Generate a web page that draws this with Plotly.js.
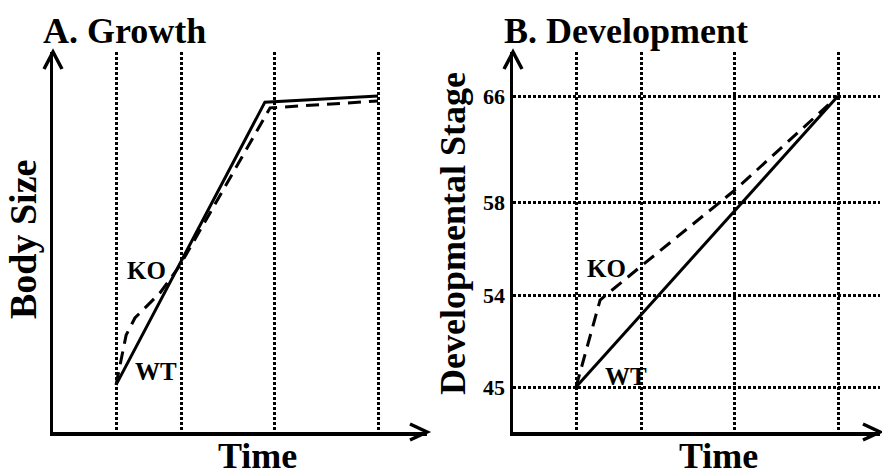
<!DOCTYPE html>
<html>
<head>
<meta charset="utf-8">
<script src="https://cdn.plot.ly/plotly-3.0.1.min.js"></script>
<style>html,body{margin:0;padding:0;background:#fff;}#chart{width:882px;height:476px;}</style>
</head>
<body>
<div id="chart"></div>
<script>
// ---- data (schematic units) ----
var gridTimes = [1.94, 3.94, 6.83, 10];

// Panel A: Growth (body size, arbitrary units)
var growthWT_t = [1.94, 6.52, 10];
var growthWT_y = [1.24, 8.68, 8.84];
var growthKO_t = [1.94, 2.25, 2.52, 3.29, 3.91, 6.68, 10];
var growthKO_y = [1.24, 2.55, 3.0, 3.66, 4.39, 8.53, 8.71];

// Panel B: Development (stage axis is schematic: positions + labels)
var stagePos = [4.5, 13.7, 23.0, 33.6];
var stageLabels = ['45', '54', '58', '66'];
var devWT_t = [1.94, 10];
var devWT_y = [4.5, 33.6];
var devKO_t = [1.94, 2.68, 3.05, 3.91, 6.83, 10];
var devKO_y = [4.5, 13.2, 14.2, 16.5, 24.2, 33.6];

// ---- layout geometry ----
var W = 882, H = 476;
var axA = [53, 427], axB = [513, 880], axY = [432, 52];
function px(x){ return x / W; }
function py(y){ return 1 - y / H; }

var serif = 'Liberation Serif, Times New Roman, serif';
var bigFont = {family: serif, size: 36, color: '#000', weight: 'bold'};
var lblFont = {family: serif, size: 25, color: '#000', weight: 'bold'};

var traces = [
  {x: growthWT_t, y: growthWT_y, xaxis: 'x', yaxis: 'y', mode: 'lines', name: 'WT',
   line: {color: '#000', width: 3}},
  {x: growthKO_t, y: growthKO_y, xaxis: 'x', yaxis: 'y', mode: 'lines', name: 'KO',
   line: {color: '#000', width: 3, dash: '13px,8px'}},
  {x: devWT_t, y: devWT_y, xaxis: 'x2', yaxis: 'y2', mode: 'lines', name: 'WT',
   line: {color: '#000', width: 3}},
  {x: devKO_t, y: devKO_y, xaxis: 'x2', yaxis: 'y2', mode: 'lines', name: 'KO',
   line: {color: '#000', width: 3, dash: '13px,8px'}}
];

var dotted = '2.5px,2.5px';
function xax(dom, pxLen){
  return {domain: [px(dom[0]), px(dom[1])], range: [0, pxLen / 32.5],
    tickvals: gridTimes, showticklabels: false, ticks: '',
    showgrid: true, gridcolor: '#000', gridwidth: 3, griddash: dotted,
    showline: true, linecolor: '#000', linewidth: 3.5, zeroline: false, fixedrange: true};
}
var yDom = [py(axY[0]), py(axY[1])];

var shapes = [];
function chevron(points){
  var d = 'M' + points.map(function(p){ return px(p[0]) + ',' + py(p[1]); }).join(' L');
  shapes.push({type: 'path', xref: 'paper', yref: 'paper', path: d,
    line: {color: '#000', width: 3.5}});
}
[axA, axB].forEach(function(a){
  chevron([[a[0] - 9, axY[1] + 17], [a[0], axY[1]], [a[0] + 9, axY[1] + 17]]);
  chevron([[a[1] - 17, axY[0] - 8], [a[1], axY[0]], [a[1] - 17, axY[0] + 8]]);
});

var annotations = [
  {text: 'A. Growth', xref: 'paper', yref: 'paper', x: px(41), y: py(31), xanchor: 'left', yanchor: 'middle', showarrow: false, font: bigFont},
  {text: 'B. Development', xref: 'paper', yref: 'paper', x: px(502), y: py(31), xanchor: 'left', yanchor: 'middle', showarrow: false, font: bigFont},
  {text: 'Body Size', xref: 'paper', yref: 'paper', x: px(23), y: py(240), textangle: -90, xanchor: 'center', yanchor: 'middle', showarrow: false, font: {family: serif, size: 38, color: '#000', weight: 'bold'}},
  {text: 'Developmental Stage', xref: 'paper', yref: 'paper', x: px(453), y: py(234), textangle: -90, xanchor: 'center', yanchor: 'middle', showarrow: false, font: bigFont},
  {text: 'Time', xref: 'paper', yref: 'paper', x: px(257), y: py(456), xanchor: 'center', yanchor: 'middle', showarrow: false, font: bigFont},
  {text: 'Time', xref: 'paper', yref: 'paper', x: px(718), y: py(456), xanchor: 'center', yanchor: 'middle', showarrow: false, font: bigFont},
  {text: 'KO', xref: 'x', yref: 'y', x: 2.89, y: 4.24, showarrow: false, font: lblFont},
  {text: 'WT', xref: 'x', yref: 'y', x: 3.17, y: 1.58, showarrow: false, font: lblFont},
  {text: 'KO', xref: 'x2', yref: 'y2', x: 2.89, y: 16.4, showarrow: false, font: lblFont},
  {text: 'WT', xref: 'x2', yref: 'y2', x: 3.48, y: 5.6, showarrow: false, font: lblFont}
];

var layout = {
  width: W, height: H,
  margin: {l: 0, r: 0, t: 0, b: 0},
  paper_bgcolor: '#fff', plot_bgcolor: 'rgba(0,0,0,0)',
  showlegend: false,
  xaxis: Object.assign(xax(axA, axA[1] - axA[0]), {anchor: 'y'}),
  yaxis: {domain: yDom, range: [0, 10], anchor: 'x', showgrid: false, showticklabels: false, ticks: '',
    showline: true, linecolor: '#000', linewidth: 3.5, zeroline: false, fixedrange: true},
  xaxis2: Object.assign(xax(axB, axB[1] - axB[0]), {anchor: 'y2'}),
  yaxis2: {domain: yDom, range: [0, 38], anchor: 'x2', tickvals: stagePos, ticktext: stageLabels,
    ticks: '', ticklabelstandoff: 0, tickfont: {family: serif, size: 22, color: '#000', weight: 'bold'},
    showgrid: true, gridcolor: '#000', gridwidth: 3, griddash: dotted,
    showline: true, linecolor: '#000', linewidth: 3.5, zeroline: false, fixedrange: true},
  shapes: shapes,
  annotations: annotations
};

Plotly.newPlot('chart', traces, layout, {displayModeBar: false, staticPlot: true});
</script>
</body>
</html>
